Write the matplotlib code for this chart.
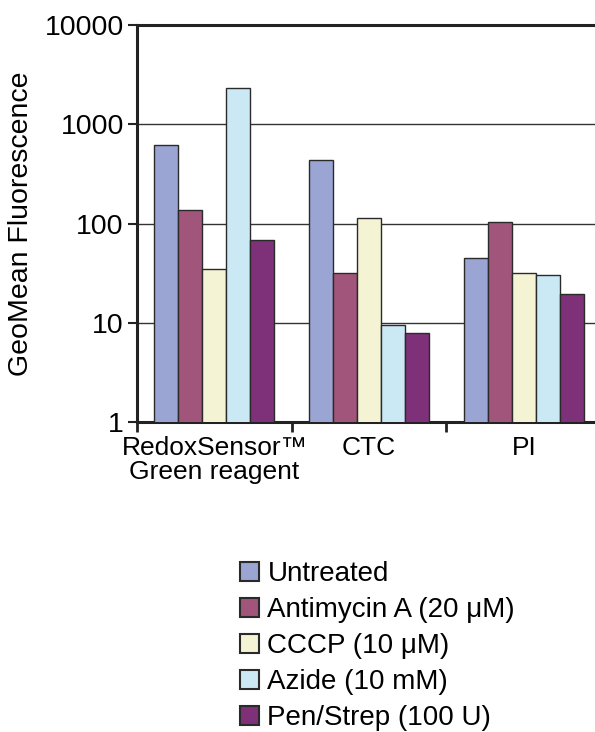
import numpy as np
import matplotlib
matplotlib.use('Agg')
import matplotlib.pyplot as plt
from matplotlib.patches import Patch
from matplotlib.ticker import FixedLocator, NullLocator, FixedFormatter

# ── Data ──────────────────────────────────────────────────────────────────────
groups     = ['RedoxSensor\u2122\nGreen reagent', 'CTC', 'PI']
treatments = ['Untreated', 'Antimycin A (20 \u03bcM)', 'CCCP (10 \u03bcM)',
              'Azide (10 mM)', 'Pen/Strep (100 U)']
untreated  = [620, 440, 45]
antimycin  = [138, 32, 103]
cccp       = [35, 113, 32]
azide      = [2300, 9.4, 30.5]
penstrep   = [69, 7.8, 19.5]
yticks     = [1, 10, 100, 1000, 10000]

series = [untreated, antimycin, cccp, azide, penstrep]
colors = ['#9BA5D3', '#A2557A', '#F4F3D4', '#CBE9F4', '#7E3179']

# ── Plot ──────────────────────────────────────────────────────────────────────
plt.rcParams['font.family'] = ['Liberation Sans', 'DejaVu Sans']

fig = plt.figure(figsize=(5.95, 7.32), dpi=100)
ax = fig.add_axes([0.2303, 0.4235, 0.78, 0.5423])

x = np.arange(len(groups))
width = 0.155
for i, (vals, col) in enumerate(zip(series, colors)):
    ax.bar(x + (i - 2) * width, vals, width,
           color=col, edgecolor='#2a2a2a', linewidth=1.0, zorder=3)

ax.set_yscale('log')
ax.set_ylim(1, 10000)
ax.set_xlim(-0.5, 2.5)
ax.yaxis.set_major_locator(FixedLocator(yticks))
ax.yaxis.set_major_formatter(FixedFormatter([str(v) for v in yticks]))
ax.yaxis.set_minor_locator(NullLocator())
ax.grid(axis='y', color='#333333', linewidth=1.0, zorder=1)

ax.set_xticks([-0.5, 0.5, 1.5], minor=False)
ax.set_xticklabels([])
ax.set_xticks(x, minor=True)
ax.set_xticklabels(groups, minor=True, fontsize=19, linespacing=1.0)
ax.tick_params(axis='x', which='minor', length=0, pad=10)
ax.tick_params(axis='x', which='major', length=7, width=2, color='#222222')
ax.tick_params(axis='y', which='major', length=6.5, width=1.5, color='#222222',
               labelsize=20.5, pad=3)

for side in ['left', 'bottom', 'top']:
    ax.spines[side].set_linewidth(2.2)
    ax.spines[side].set_color('#222222')
ax.spines['right'].set_visible(False)

ax.set_ylabel('GeoMean Fluorescence', fontsize=20.5)
ax.yaxis.set_label_coords(-0.222, 0.5)

handles = [Patch(facecolor=c, edgecolor='#2a2a2a', linewidth=1.5) for c in colors]
fig.legend(handles, treatments, loc='upper left', bbox_to_anchor=(0.385, 0.249),
           frameon=False, fontsize=20, handlelength=0.68, handleheight=0.68,
           handletextpad=0.3, labelspacing=0.36, borderaxespad=0)

fig.savefig('out.png', dpi=100)
